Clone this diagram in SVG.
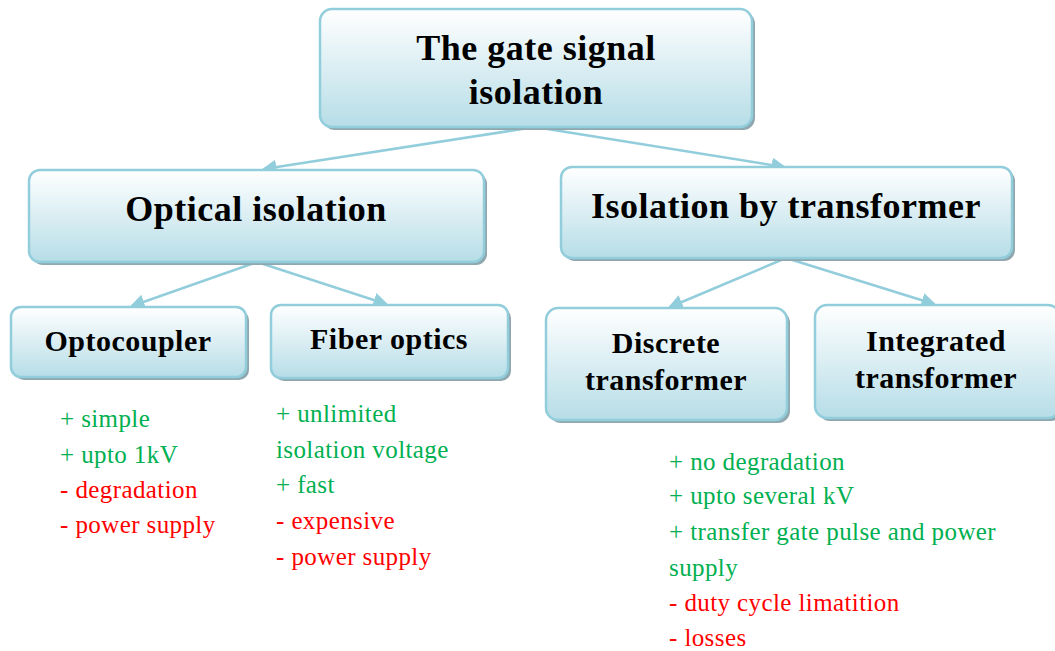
<svg xmlns="http://www.w3.org/2000/svg" width="1055" height="651" viewBox="0 0 1055 651">
<defs>
<linearGradient id="g" x1="0" y1="0" x2="0" y2="1">
<stop offset="0" stop-color="#ffffff"/>
<stop offset="1" stop-color="#b6dde7"/>
</linearGradient>
<marker id="ah" markerWidth="6" markerHeight="6" refX="5" refY="3" orient="auto" markerUnits="strokeWidth">
<path d="M0,0 L6,3 L0,6 z" fill="#92cddc"/>
</marker>
<style>
.box{fill:url(#g);stroke:#92cddc;stroke-width:2.5}
.sh{fill:#8fa7ae}
text{font-family:"Liberation Serif","Times New Roman","DejaVu Serif",serif}
.t{font-weight:bold;fill:#000;text-anchor:middle;letter-spacing:0.5px}
.l{font-size:25px;letter-spacing:0.4px}
.p{fill:#00b050}
.m{fill:#ff0000}
.c{stroke:#92cddc;stroke-width:2.5;fill:none;marker-end:url(#ah)}
</style>
</defs>
<rect width="1055" height="651" fill="#ffffff"/>
<g id="connectors">
<line class="c" x1="535" y1="127" x2="264" y2="169"/>
<line class="c" x1="535" y1="127" x2="784" y2="167"/>
<line class="c" x1="257" y1="262" x2="132" y2="306"/>
<line class="c" x1="257" y1="262" x2="386" y2="304"/>
<line class="c" x1="786" y1="258" x2="670" y2="307"/>
<line class="c" x1="786" y1="258" x2="934" y2="304"/>
</g>
<g id="root">
<rect class="sh" x="323" y="12" width="432" height="118" rx="12"/>
<rect class="box" x="320" y="9" width="432" height="118" rx="12"/>
<text class="t" x="536" y="60" font-size="36">The gate signal</text>
<text class="t" x="536" y="104" font-size="36">isolation</text>
</g>
<g id="optical">
<rect class="sh" x="32" y="173" width="455" height="92" rx="11"/>
<rect class="box" x="29" y="170" width="455" height="92" rx="11"/>
<text class="t" x="256" y="221" font-size="36">Optical isolation</text>
</g>
<g id="transformer">
<rect class="sh" x="564" y="170" width="451" height="91" rx="11"/>
<rect class="box" x="561" y="167" width="451" height="91" rx="11"/>
<text class="t" x="786" y="218" font-size="36">Isolation by transformer</text>
</g>
<g id="optocoupler">
<rect class="sh" x="14" y="310" width="235" height="70" rx="10"/>
<rect class="box" x="11" y="307" width="235" height="70" rx="10"/>
<text class="t" x="128" y="351" font-size="30">Optocoupler</text>
</g>
<g id="fiber">
<rect class="sh" x="274" y="308" width="237" height="73" rx="10"/>
<rect class="box" x="271" y="305" width="237" height="73" rx="10"/>
<text class="t" x="389" y="349" font-size="30">Fiber optics</text>
</g>
<g id="discrete">
<rect class="sh" x="549" y="311" width="241" height="112" rx="12"/>
<rect class="box" x="546" y="308" width="241" height="112" rx="12"/>
<text class="t" x="666" y="353" font-size="30">Discrete</text>
<text class="t" x="666" y="390" font-size="30">transformer</text>
</g>
<g id="integrated">
<rect class="sh" x="818" y="308" width="245" height="113" rx="12"/>
<rect class="box" x="815" y="305" width="245" height="113" rx="12"/>
<text class="t" x="936" y="351" font-size="30">Integrated</text>
<text class="t" x="936" y="388" font-size="30">transformer</text>
</g>
<g id="opto-list" class="l">
<text class="p" x="60" y="427">+ simple</text>
<text class="p" x="60" y="463">+ upto 1kV</text>
<text class="m" x="60" y="498">- degradation</text>
<text class="m" x="60" y="533">- power supply</text>
</g>
<g id="fiber-list" class="l">
<text class="p" x="276" y="422">+ unlimited</text>
<text class="p" x="276" y="458">isolation voltage</text>
<text class="p" x="276" y="493">+ fast</text>
<text class="m" x="276" y="529">- expensive</text>
<text class="m" x="276" y="565">- power supply</text>
</g>
<g id="transformer-list" class="l">
<text class="p" x="669" y="470">+ no degradation</text>
<text class="p" x="669" y="504">+ upto several kV</text>
<text class="p" x="669" y="540">+ transfer gate pulse and power</text>
<text class="p" x="669" y="576">supply</text>
<text class="m" x="669" y="611">- duty cycle limatition</text>
<text class="m" x="669" y="646">- losses</text>
</g>
</svg>
